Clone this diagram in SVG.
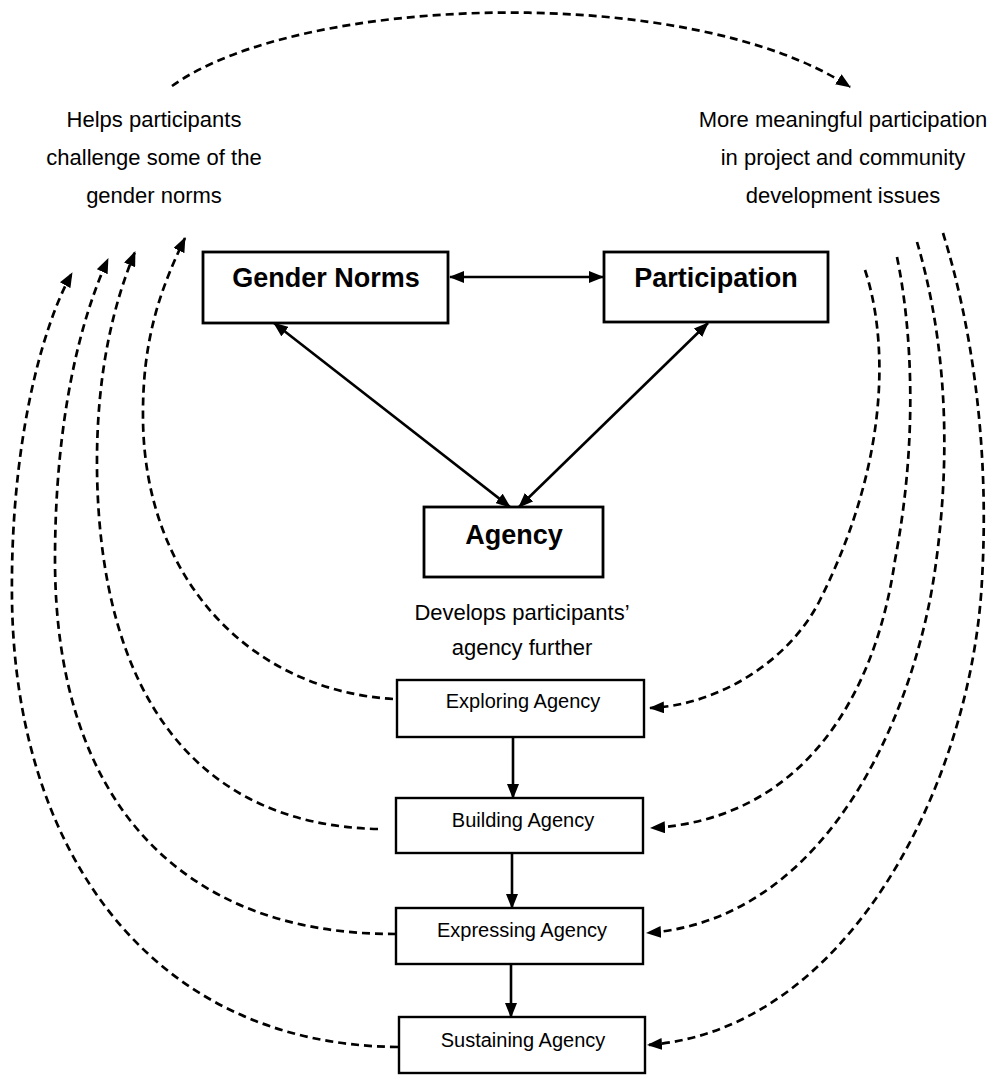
<svg xmlns="http://www.w3.org/2000/svg" width="996" height="1075" viewBox="0 0 996 1075">
<style>
.bg{fill:#ffffff}
.box{fill:#ffffff;stroke:#000;stroke-width:2.8}
.sbox{fill:#ffffff;stroke:#000;stroke-width:2.4}
.big{font-family:"Liberation Sans",Arial,sans-serif;font-weight:bold;font-size:27px;fill:#000;text-anchor:middle}
.lbl{font-family:"Liberation Sans",Arial,sans-serif;font-size:20px;fill:#000;text-anchor:middle}
.txt{font-family:"Liberation Sans",Arial,sans-serif;font-size:22px;fill:#000;text-anchor:middle}
.solid{fill:none;stroke:#000;stroke-width:2.6}
.dash{fill:none;stroke:#000;stroke-width:2.7;stroke-dasharray:8 5}
</style>
<defs>
<marker id="ah" viewBox="0 0 15 12" refX="14" refY="6" markerWidth="15" markerHeight="12" markerUnits="userSpaceOnUse" orient="auto-start-reverse">
<path d="M0,0 L15,6 L0,12 z" fill="#000"/>
</marker>
</defs>
<rect class="bg" x="0" y="0" width="996" height="1075"/>

<g id="connectors">
<path class="dash" d="M172,86 C 300,-6 690,-18 850,87" marker-end="url(#ah)"/>
<path class="solid" d="M450,277 L603,277" marker-start="url(#ah)" marker-end="url(#ah)"/>
<path class="solid" d="M274,323 L510,507" marker-start="url(#ah)" marker-end="url(#ah)"/>
<path class="solid" d="M708,323 L519,507" marker-start="url(#ah)" marker-end="url(#ah)"/>
<path class="solid" d="M513,737 L513,798" marker-end="url(#ah)"/>
<path class="solid" d="M512,853 L512,908" marker-end="url(#ah)"/>
<path class="solid" d="M511,964 L511,1017" marker-end="url(#ah)"/>
<path class="dash" d="M398,1047 C 150,1045 15,850 12,600 C 10,450 40,330 72,273" marker-end="url(#ah)"/>
<path class="dash" d="M396,934 C 180,935 55,800 55,560 C 55,420 80,320 108,259" marker-end="url(#ah)"/>
<path class="dash" d="M378,829 C 200,825 100,700 97,470 C 96,370 115,300 135,252" marker-end="url(#ah)"/>
<path class="dash" d="M393,699 C 250,690 145,580 143,420 C 142,340 160,290 185,238" marker-end="url(#ah)"/>
<path class="dash" d="M865,270 C 885,330 895,450 820,600 C 790,660 720,705 650,708" marker-end="url(#ah)"/>
<path class="dash" d="M897,257 C 912,330 918,440 895,560 C 875,700 800,820 651,828" marker-end="url(#ah)"/>
<path class="dash" d="M917,242 C 940,320 955,430 935,570 C 915,710 830,920 647,933" marker-end="url(#ah)"/>
<path class="dash" d="M943,233 C 970,320 990,440 982,580 C 972,780 850,1030 648,1045" marker-end="url(#ah)"/>
</g>

<g id="note-gender">
<text class="txt" x="154" y="127">Helps participants</text>
<text class="txt" x="154" y="165">challenge some of the</text>
<text class="txt" x="154" y="203">gender norms</text>
</g>
<g id="note-participation">
<text class="txt" x="843" y="127">More meaningful participation</text>
<text class="txt" x="843" y="165">in project and community</text>
<text class="txt" x="843" y="203">development issues</text>
</g>
<g id="gender-norms">
<rect class="box" x="203" y="252" width="245" height="71"/>
<text class="big" x="326" y="287">Gender Norms</text>
</g>
<g id="participation">
<rect class="box" x="604" y="252" width="224" height="70"/>
<text class="big" x="716" y="287">Participation</text>
</g>
<g id="agency">
<rect class="box" x="424" y="507" width="179" height="70"/>
<text class="big" x="514" y="544">Agency</text>
</g>
<g id="note-agency">
<text class="txt" x="522" y="620">Develops participants’</text>
<text class="txt" x="522" y="655">agency further</text>
</g>
<g id="exploring">
<rect class="sbox" x="397" y="680" width="247" height="57"/>
<text class="lbl" x="523" y="708">Exploring Agency</text>
</g>
<g id="building">
<rect class="sbox" x="396" y="798" width="247" height="55"/>
<text class="lbl" x="523" y="827">Building Agency</text>
</g>
<g id="expressing">
<rect class="sbox" x="396" y="908" width="247" height="56"/>
<text class="lbl" x="522" y="937">Expressing Agency</text>
</g>
<g id="sustaining">
<rect class="sbox" x="399" y="1017" width="246" height="56"/>
<text class="lbl" x="523" y="1047">Sustaining Agency</text>
</g>
</svg>
